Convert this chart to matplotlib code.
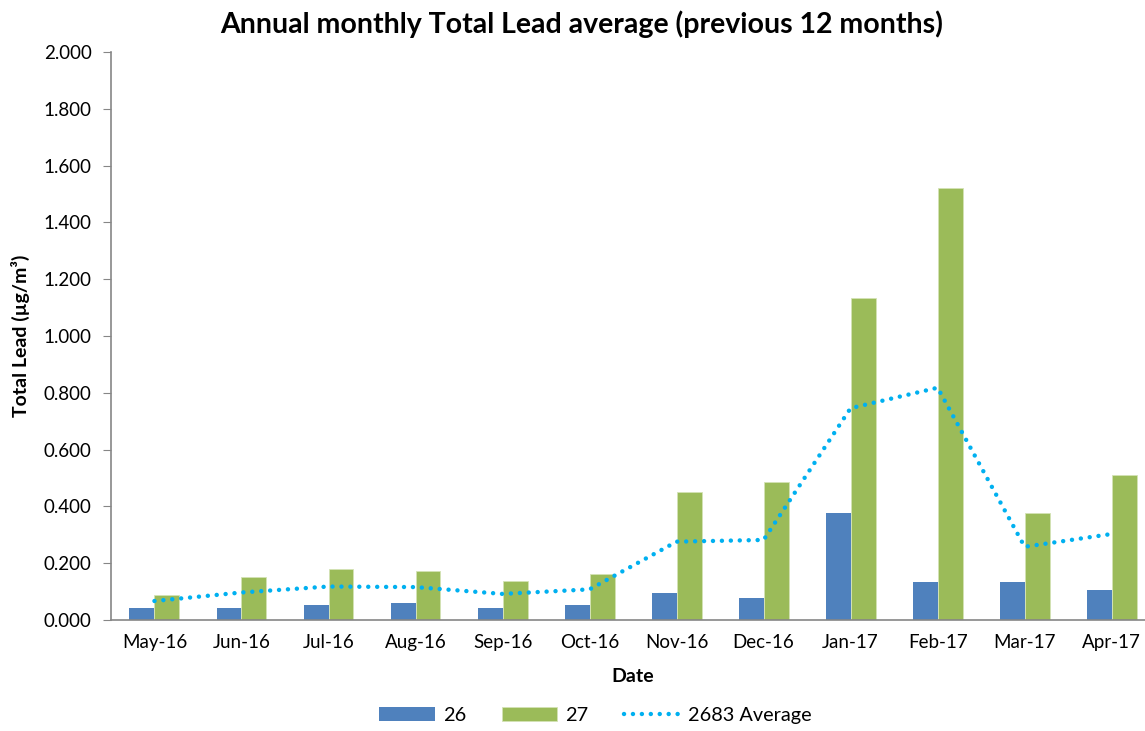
import matplotlib.pyplot as plt
import numpy as np

months = ['May-16', 'Jun-16', 'Jul-16', 'Aug-16', 'Sep-16', 'Oct-16',
          'Nov-16', 'Dec-16', 'Jan-17', 'Feb-17', 'Mar-17', 'Apr-17']
site_26 = [0.042, 0.042, 0.053, 0.060, 0.042, 0.053,
           0.094, 0.077, 0.376, 0.133, 0.133, 0.105]
site_27 = [0.088, 0.151, 0.180, 0.173, 0.137, 0.162,
           0.452, 0.487, 1.135, 1.522, 0.376, 0.510]
avg_2683 = [0.067, 0.097, 0.118, 0.116, 0.092, 0.108,
            0.276, 0.282, 0.746, 0.818, 0.258, 0.303]

plt.rcParams['font.family'] = ['Lato', 'DejaVu Sans']

fig = plt.figure(figsize=(11.45, 7.31), dpi=100)
ax = fig.add_axes([0.0969, 0.1518, 0.912, 0.777])

x = np.arange(len(months))
w = 0.287
b1 = ax.bar(x - w / 2, site_26, w, color='#4F81BD', label='26', zorder=2)
b2 = ax.bar(x + w / 2, site_27, w, color='#9BBB59', edgecolor='#d4e3b5',
            linewidth=0.6, label='27', zorder=2)
ln, = ax.plot(x, avg_2683, color='#00B0F0', linewidth=3.2,
              linestyle=(0, (0.01, 2.0)), dash_capstyle='round',
              label='2683 Average', zorder=3)

ax.set_xlim(-0.5, len(months) - 0.5)
ax.set_ylim(0, 2.0)
ticks = np.arange(0, 2.01, 0.2)
ax.set_yticks(ticks)
ax.set_yticklabels([f'{v:.3f}' for v in ticks])
ax.set_xticks(x)
ax.set_xticklabels(months)
ax.tick_params(axis='y', length=6, color='#868686', labelsize=13.5, pad=8)
ax.tick_params(axis='x', length=0, labelsize=13.5, pad=10)

for s in ['top', 'right']:
    ax.spines[s].set_visible(False)
for s in ['left', 'bottom']:
    ax.spines[s].set_color('#868686')
    ax.spines[s].set_linewidth(1.2)

ax.set_ylabel('Total Lead (µg/m³)', fontsize=14, fontweight='bold', labelpad=10)
ax.set_xlabel('Date', fontsize=14, fontweight='bold', labelpad=12)
fig.text(0.508, 0.967, 'Annual monthly Total Lead average (previous 12 months)',
         ha='center', va='center', fontsize=20.5, fontweight='bold')

# legend sits at the very bottom like the original, nudged up so it stays readable
fig.legend(handles=[b1, b2, ln], loc='center', bbox_to_anchor=(0.52, 0.021),
           ncol=3, frameon=False, fontsize=14.3, handlelength=2.8,
           columnspacing=1.8, handletextpad=0.4)

fig.savefig('out.png', dpi=100)
